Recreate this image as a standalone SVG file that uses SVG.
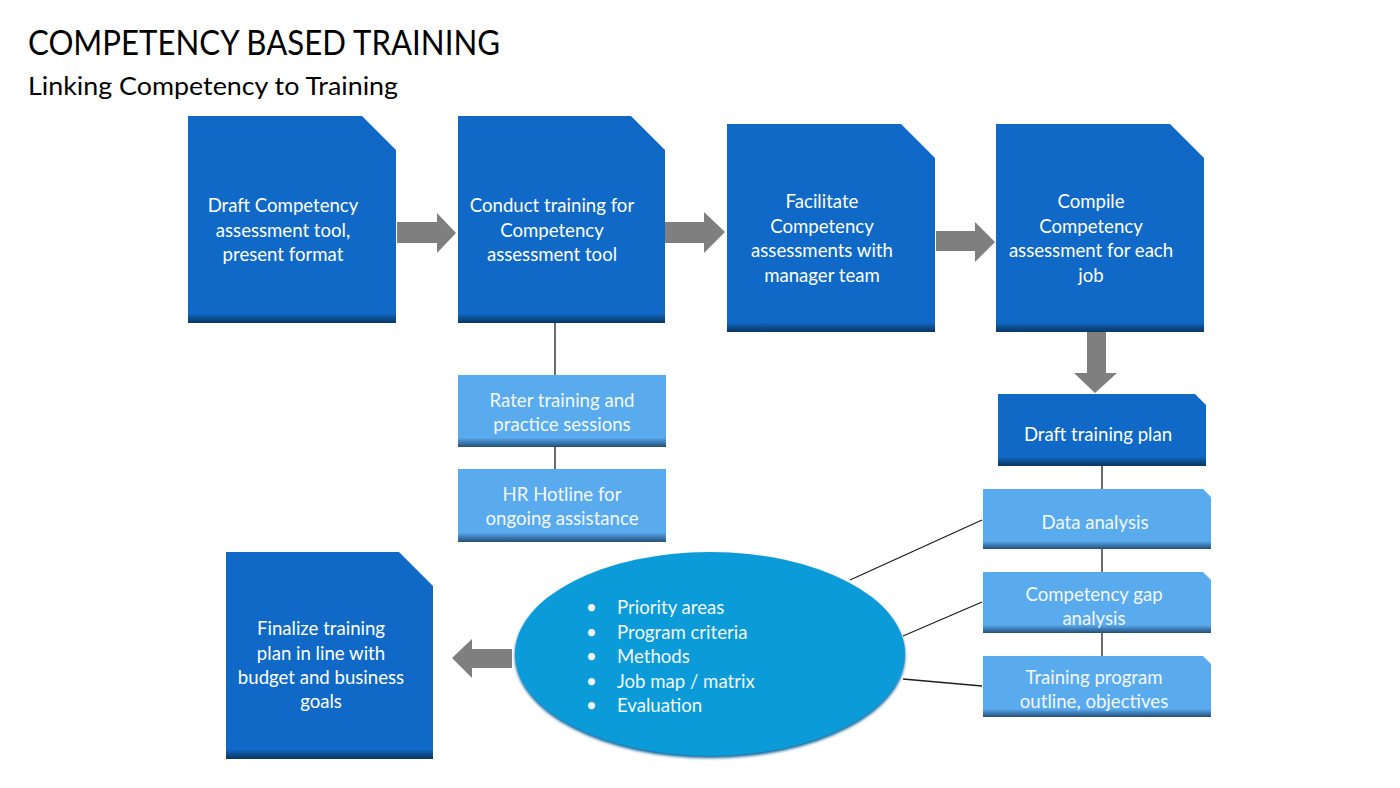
<svg xmlns="http://www.w3.org/2000/svg" width="1400" height="788" viewBox="0 0 1400 788">
<defs>
<style>
.t{font-family:Lato,"Open Sans","Liberation Sans",sans-serif;fill:#ffffff;font-size:18.6px;text-anchor:middle}
.lt{fill:#f2f8ff}
.b{text-anchor:start}
.hd{font-family:Lato,"Open Sans","Liberation Sans",sans-serif;fill:#000}
.dark{fill:url(#gDark)}
.darkS{fill:url(#gDarkS)}
.light{fill:url(#gLight)}
.arr{fill:#7f7f7f}
.con line{stroke:#1e1e1e;stroke-width:1.3}
</style>
<linearGradient id="gDark" x1="0" y1="0" x2="0" y2="1">
<stop offset="0" stop-color="#1069c6"/>
<stop offset="0.955" stop-color="#1069c6"/>
<stop offset="0.975" stop-color="#0d4f93"/>
<stop offset="1" stop-color="#0a3660"/>
</linearGradient>
<linearGradient id="gDarkS" x1="0" y1="0" x2="0" y2="1">
<stop offset="0" stop-color="#1069c6"/>
<stop offset="0.87" stop-color="#1069c6"/>
<stop offset="0.93" stop-color="#0d4f93"/>
<stop offset="1" stop-color="#0a3660"/>
</linearGradient>
<linearGradient id="gLight" x1="0" y1="0" x2="0" y2="1">
<stop offset="0" stop-color="#5aaaee"/>
<stop offset="0.87" stop-color="#5aaaee"/>
<stop offset="0.93" stop-color="#3f7fb8"/>
<stop offset="1" stop-color="#264f78"/>
</linearGradient>
<filter id="blur" x="-10%" y="-10%" width="120%" height="130%"><feGaussianBlur stdDeviation="1.5"/></filter>
</defs>
<rect width="1400" height="788" fill="#ffffff"/>
<text class="hd" x="28" y="55" font-size="34" textLength="472" lengthAdjust="spacingAndGlyphs">COMPETENCY BASED TRAINING</text>
<text class="hd" x="28" y="95" font-size="25" textLength="370" lengthAdjust="spacingAndGlyphs">Linking Competency to Training</text>

<g id="connectors" class="con">
<line x1="555" y1="323" x2="555" y2="375"/>
<line x1="555" y1="447" x2="555" y2="469"/>
<line x1="1102" y1="466" x2="1102" y2="489"/>
<line x1="1102" y1="549" x2="1102" y2="572"/>
<line x1="1102" y1="633" x2="1102" y2="656"/>
<line x1="850" y1="580" x2="982" y2="520"/>
<line x1="903" y1="636" x2="982" y2="602"/>
<line x1="903" y1="679" x2="982" y2="686"/>
<polygon class="arr" points="397,222 437,222 437,213 456,233 437,253 437,243 397,243"/>
<polygon class="arr" points="664,222 704,222 704,212 725,232 704,253 704,243 664,243"/>
<polygon class="arr" points="936,231 975,231 975,222 995,242 975,262 975,251 936,251"/>
<polygon class="arr" points="1087,332 1106,332 1106,373 1117,373 1095,393 1074,373 1087,373"/>
<polygon class="arr" points="512,649 472,649 472,639 452,658 472,678 472,668 512,668"/>
</g>

<g id="n1">
<path class="dark" d="M188,116 H362 L396,150 V323 H188 Z"/>
<text class="t" x="283" y="212">Draft Competency</text>
<text class="t" x="283" y="237">assessment tool,</text>
<text class="t" x="283" y="261">present format</text>
</g>
<g id="n2">
<path class="dark" d="M458,116 H631 L665,150 V323 H458 Z"/>
<text class="t" x="552" y="212">Conduct training for</text>
<text class="t" x="552" y="237">Competency</text>
<text class="t" x="552" y="261">assessment tool</text>
</g>
<g id="n3">
<path class="dark" d="M727,124 H901 L935,158 V332 H727 Z"/>
<text class="t" x="822" y="208">Facilitate</text>
<text class="t" x="822" y="233">Competency</text>
<text class="t" x="822" y="257">assessments with</text>
<text class="t" x="822" y="282">manager team</text>
</g>
<g id="n4">
<path class="dark" d="M996,124 H1170 L1204,158 V332 H996 Z"/>
<text class="t" x="1091" y="208">Compile</text>
<text class="t" x="1091" y="233">Competency</text>
<text class="t" x="1091" y="257">assessment for each</text>
<text class="t" x="1091" y="282">job</text>
</g>
<g id="n5">
<path class="darkS" d="M998,394 H1195 L1206,405 V466 H998 Z"/>
<text class="t" x="1098" y="441">Draft training plan</text>
</g>
<g id="n6">
<rect class="light" x="458" y="375" width="208" height="72"/>
<text class="t lt" x="562" y="407">Rater training and</text>
<text class="t lt" x="562" y="431">practice sessions</text>
</g>
<g id="n7">
<rect class="light" x="458" y="469" width="208" height="73"/>
<text class="t lt" x="562" y="501">HR Hotline for</text>
<text class="t lt" x="562" y="525">ongoing assistance</text>
</g>
<g id="n8">
<path class="light" d="M983,489 H1203 L1211,497 V549 H983 Z"/>
<text class="t lt" x="1095" y="529">Data analysis</text>
</g>
<g id="n9">
<path class="light" d="M983,572 H1203 L1211,580 V633 H983 Z"/>
<text class="t lt" x="1094" y="601">Competency gap</text>
<text class="t lt" x="1094" y="625">analysis</text>
</g>
<g id="n10">
<path class="light" d="M983,656 H1203 L1211,664 V717 H983 Z"/>
<text class="t lt" x="1094" y="684">Training program</text>
<text class="t lt" x="1094" y="708">outline, objectives</text>
</g>
<g id="n11">
<ellipse cx="710" cy="656" rx="195" ry="102" fill="#0b5f96" filter="url(#blur)"/>
<ellipse cx="710" cy="654" rx="195" ry="102" fill="#0a9bd8"/>
<text class="t lt b" x="586" y="614" font-size="14">•</text>
<text class="t lt b" x="617" y="614">Priority areas</text>
<text class="t lt b" x="586" y="639" font-size="14">•</text>
<text class="t lt b" x="617" y="639">Program criteria</text>
<text class="t lt b" x="586" y="663" font-size="14">•</text>
<text class="t lt b" x="617" y="663">Methods</text>
<text class="t lt b" x="586" y="688" font-size="14">•</text>
<text class="t lt b" x="617" y="688">Job map / matrix</text>
<text class="t lt b" x="586" y="712" font-size="14">•</text>
<text class="t lt b" x="617" y="712">Evaluation</text>
</g>
<g id="n12">
<path class="dark" d="M226,552 H399 L433,586 V759 H226 Z"/>
<text class="t" x="321" y="635">Finalize training</text>
<text class="t" x="321" y="660">plan in line with</text>
<text class="t" x="321" y="684">budget and business</text>
<text class="t" x="321" y="708">goals</text>
</g>
</svg>
